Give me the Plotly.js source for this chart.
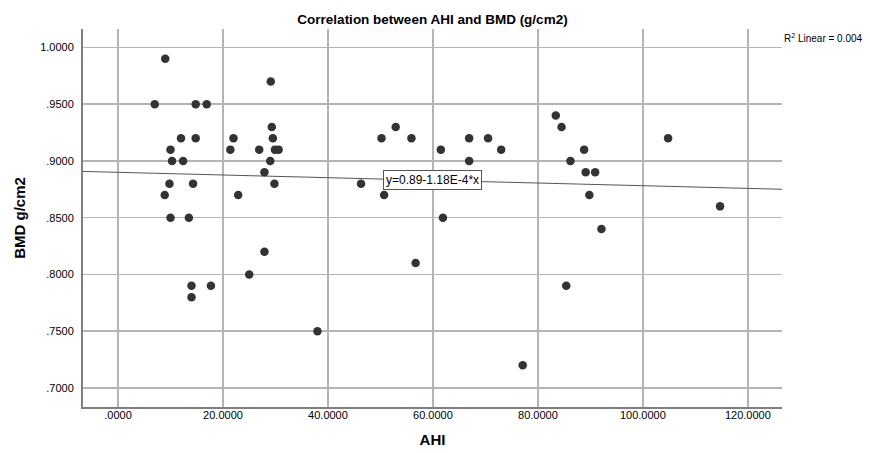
<!DOCTYPE html>
<html>
<head>
<meta charset="utf-8">
<script src="https://cdn.plot.ly/plotly-3.0.1.min.js"></script>
<style>html,body{margin:0;padding:0;background:#fff;}#chart{width:870px;height:453px;}</style>
</head>
<body>
<div id="chart"></div>
<script>
// AHI values (x) and BMD values (y)
const ahi = [9.0, 29.1, 7.0, 14.8, 16.9, 29.3, 12.0, 14.8, 22.0, 29.5,
             10.0, 21.4, 26.9, 29.9, 30.6, 10.3, 12.4, 29.0, 27.9, 9.8,
             14.3, 29.8, 8.9, 22.9, 10.0, 13.5,
             27.9, 25.0, 14.0, 17.7, 14.0, 38.0,
             52.9, 50.2, 55.9, 66.9, 70.5, 61.5, 73.0, 66.9, 46.3, 50.7, 61.9,
             56.7, 77.1,
             83.4, 84.5, 104.8, 88.8, 86.2, 89.1, 90.9, 89.8, 114.7,
             92.1, 85.4];
const bmd = [0.99, 0.97, 0.95, 0.95, 0.95, 0.93, 0.92, 0.92, 0.92, 0.92,
             0.91, 0.91, 0.91, 0.91, 0.91, 0.90, 0.90, 0.90, 0.89, 0.88,
             0.88, 0.88, 0.87, 0.87, 0.85, 0.85,
             0.82, 0.80, 0.79, 0.79, 0.78, 0.75,
             0.93, 0.92, 0.92, 0.92, 0.92, 0.91, 0.91, 0.90, 0.88, 0.87, 0.85,
             0.81, 0.72,
             0.94, 0.93, 0.92, 0.91, 0.90, 0.89, 0.89, 0.87, 0.86,
             0.84, 0.79];

// Fit line as printed on the chart
const fitIntercept = 0.89;
const fitSlope = -1.18e-4;
const xRange = [-6.67, 126.5];
const yRange = [0.6832, 1.0163];

const xTicks = [0, 20, 40, 60, 80, 100, 120];
const xTickLabels = [".0000", "20.0000", "40.0000", "60.0000", "80.0000", "100.0000", "120.0000"];
const yTicks = [0.70, 0.75, 0.80, 0.85, 0.90, 0.95, 1.00];
const yTickLabels = [".7000", ".7500", ".8000", ".8500", ".9000", ".9500", "1.0000"];

const fitX = xRange.slice();
const fitY = fitX.map(v => fitIntercept + fitSlope * v);
const labelX = 60;

const font = "Arial, 'Liberation Sans', sans-serif";

const traces = [
  {
    x: fitX, y: fitY, type: 'scatter', mode: 'lines',
    line: {color: '#555555', width: 1}, hoverinfo: 'skip', showlegend: false
  },
  {
    x: ahi, y: bmd, type: 'scatter', mode: 'markers',
    marker: {color: '#333333', size: 8.5, line: {width: 0}}, showlegend: false
  }
];

const layout = {
  width: 870, height: 453,
  margin: {l: 83, r: 88, t: 29, b: 46, pad: 0},
  paper_bgcolor: '#ffffff', plot_bgcolor: '#ffffff',
  font: {family: font, color: '#000000', size: 11},
  title: {
    text: '<b>Correlation between AHI and BMD (g/cm2)</b>',
    font: {family: font, size: 13.5, color: '#000000'},
    x: 0.5, xanchor: 'center', y: 0.958, yanchor: 'middle', xref: 'paper'
  },
  xaxis: {
    range: xRange, tickvals: xTicks, ticktext: xTickLabels,
    showgrid: true, gridcolor: '#b4b4b4', gridwidth: 1.5,
    zeroline: false, showline: true, linecolor: '#808080', linewidth: 2,
    ticks: '', ticklabelstandoff: -3, tickfont: {family: font, size: 11, color: '#000'},
    title: {text: '<b>AHI</b>', font: {family: font, size: 15, color: '#000'}, standoff: 14}
  },
  yaxis: {
    range: yRange, tickvals: yTicks, ticktext: yTickLabels,
    showgrid: true, gridcolor: '#b4b4b4', gridwidth: 1.5,
    zeroline: false, showline: true, linecolor: '#808080', linewidth: 2,
    ticks: '', ticklabelstandoff: 5, tickfont: {family: font, size: 11, color: '#000'},
    title: {text: '<b>BMD g/cm2</b>', font: {family: font, size: 15, color: '#000'}, standoff: 11}
  },
  annotations: [
    {
      x: labelX, y: fitIntercept + fitSlope * labelX, xref: 'x', yref: 'y',
      text: 'y=0.89-1.18E-4*x', showarrow: false,
      font: {family: font, size: 12, color: '#000'},
      bgcolor: '#ffffff', bordercolor: '#555555', borderwidth: 1, borderpad: 2
    },
    {
      x: 1, y: 0.976, xref: 'paper', yref: 'paper', xanchor: 'left', yanchor: 'middle',
      text: 'R<sup>2</sup> Linear = 0.004', showarrow: false,
      font: {family: font, size: 10, color: '#000'}
    }
  ]
};

Plotly.newPlot('chart', traces, layout, {displayModeBar: false, staticPlot: true});
</script>
</body>
</html>
